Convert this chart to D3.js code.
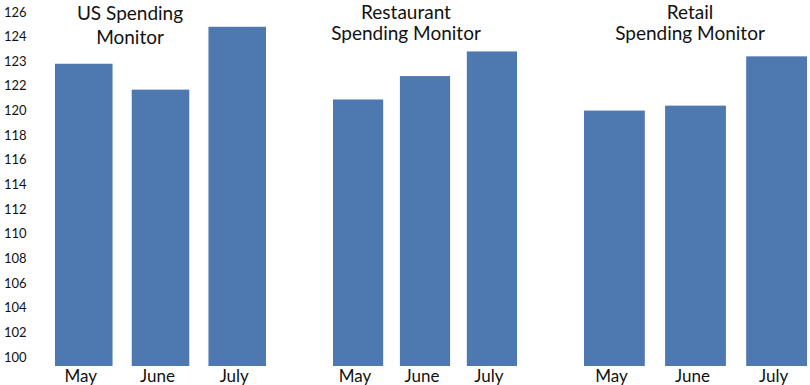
<!DOCTYPE html>
<html>
<head>
<meta charset="utf-8">
<script src="https://cdn.jsdelivr.net/npm/d3@7"></script>
<style>
  body { margin: 0; background: #fff; }
  text { font-family: Lato, "Open Sans", sans-serif; fill: #111; }
</style>
</head>
<body>
<div id="chart"></div>
<script>
// values (the axis labels are not evenly spaced in value)
const months = ["May", "June", "July"];
const tickValues = [100, 102, 104, 106, 108, 110, 112, 114, 116, 118, 120, 122, 123, 124, 126];
const panelTitles = [["US Spending", "Monitor"], ["Restaurant", "Spending Monitor"], ["Retail", "Spending Monitor"]];
const usValues = [122.9, 121.7, 124.8];
const restaurantValues = [120.9, 122.4, 123.4];
const retailValues = [120.0, 120.4, 123.2];

const width = 810, height = 385;
const barColor = "#4d79b0";
const floorY = 366;

const svg = d3.select("#chart")
  .append("svg")
  .attr("width", width)
  .attr("height", height);

// each tick label sits on an even step, so the scale is piecewise
const axisTop = 12, axisBottom = 357;
const step = (axisBottom - axisTop) / (tickValues.length - 1);
const y = d3.scaleLinear()
  .domain(tickValues)
  .range(tickValues.map((d, i) => axisBottom - i * step));

svg.append("g")
  .selectAll("text")
  .data(tickValues)
  .enter()
  .append("text")
  .attr("x", 4)
  .attr("y", d => y(d))
  .attr("dy", "0.35em")
  .attr("font-size", 13)
  .text(d => d);

const panels = [
  { values: usValues, range: [55, 266], titleX: 130, titleY: [20, 44] },
  { values: restaurantValues, range: [333, 517], titleX: 406, titleY: [19, 40] },
  { values: retailValues, range: [584, 807], titleX: 690, titleY: [19, 40] }
];

panels.forEach((p, k) => {
  const x = d3.scaleBand()
    .domain(months)
    .range(p.range)
    .paddingInner(0.25)
    .paddingOuter(0);

  const g = svg.append("g");

  g.selectAll("rect")
    .data(p.values)
    .enter()
    .append("rect")
    .attr("x", (d, i) => x(months[i]))
    .attr("width", x.bandwidth())
    .attr("y", d => y(d))
    .attr("height", d => floorY - y(d))
    .attr("fill", barColor);

  g.selectAll(".month")
    .data(months)
    .enter()
    .append("text")
    .attr("class", "month")
    .attr("x", d => x(d) + x.bandwidth() / 2 - 3)
    .attr("y", 382)
    .attr("text-anchor", "middle")
    .attr("font-size", 17)
    .text(d => d);

  g.selectAll(".title")
    .data(panelTitles[k])
    .enter()
    .append("text")
    .attr("class", "title")
    .attr("x", p.titleX)
    .attr("y", (d, i) => p.titleY[i])
    .attr("text-anchor", "middle")
    .attr("font-size", 19)
    .text(d => d);
});
</script>
</body>
</html>
